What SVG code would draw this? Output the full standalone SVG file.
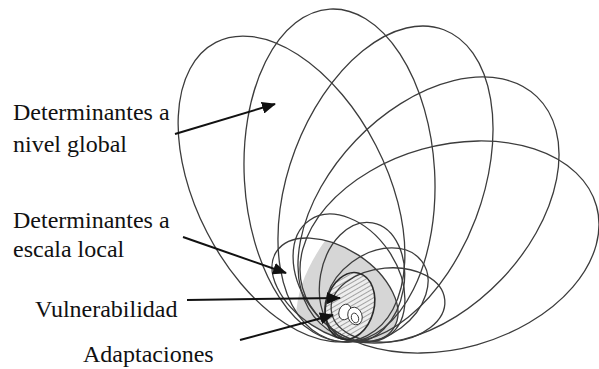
<svg xmlns="http://www.w3.org/2000/svg" width="599" height="369" viewBox="0 0 599 369">
  <style>
    .ring { fill: none; stroke: #3c3c3c; stroke-width: 1.3; }
    .arrow { stroke: #111; stroke-width: 2; fill: none; marker-end: url(#head); }
    .blob { fill: #fff; stroke: #333; stroke-width: 0.9; }
  </style>
  <defs>
    <marker id="head" markerUnits="userSpaceOnUse" markerWidth="14" markerHeight="12" refX="13" refY="6" orient="auto">
      <path d="M0,0 L14,6 L0,12 z" fill="#111"/>
    </marker>
    <pattern id="hatch" patternUnits="userSpaceOnUse" width="4" height="4" patternTransform="rotate(45)">
      <rect width="4" height="4" fill="#eeeeee"/>
      <line x1="0" y1="0" x2="0" y2="4" stroke="#6e6e6e" stroke-width="1.2"/>
    </pattern>
    <clipPath id="clipGray">
      <path d="M301,235 C298,265 298,305 318,335 L345,350 L430,350 L430,220 Z"/>
    </clipPath>
  </defs>
  <rect width="599" height="369" fill="#fff"/>

  <g id="local-shaded">
    <ellipse cx="335" cy="290" rx="70" ry="42" transform="rotate(33.2 335 290)" fill="#d6d6d6" clip-path="url(#clipGray)"/>
  </g>
  <g id="vulnerability-fill">
    <ellipse cx="350" cy="306" rx="24" ry="34" transform="rotate(15 350 306)" fill="url(#hatch)"/>
  </g>

  <g id="global">
    <ellipse class="ring" cx="291.5" cy="189" rx="165" ry="95" transform="rotate(62.7 291.5 189)"/>
    <ellipse class="ring" cx="339.5" cy="175.5" rx="166.7" ry="95.2" transform="rotate(86.7 339.5 175.5)"/>
    <ellipse class="ring" cx="385.5" cy="184" rx="164.9" ry="96.6" transform="rotate(-69.3 385.5 184)"/>
    <ellipse class="ring" cx="428.5" cy="210" rx="156.8" ry="100.7" transform="rotate(-46.3 428.5 210)"/>
    <ellipse class="ring" cx="449.5" cy="247" rx="152.6" ry="101.5" transform="rotate(-15.6 449.5 247)"/>
  </g>

  <g id="local">
    <ellipse class="ring" cx="335" cy="290" rx="70" ry="42" transform="rotate(33.2 335 290)"/>
    <ellipse class="ring" cx="349" cy="278" rx="70" ry="48" transform="rotate(55.7 349 278)"/>
    <ellipse class="ring" cx="362" cy="282" rx="42" ry="60" transform="rotate(10 362 282)"/>
    <ellipse class="ring" cx="376.5" cy="295" rx="56.5" ry="41" transform="rotate(-36.5 376.5 295)"/>
    <ellipse class="ring" cx="388" cy="305" rx="57" ry="37" transform="rotate(-5 388 305)"/>
  </g>

  <g id="vulnerability">
    <ellipse cx="350" cy="306" rx="24" ry="34" transform="rotate(15 350 306)" fill="none" stroke="#2a2a2a" stroke-width="1.6"/>
  </g>

  <g id="adaptations">
    <ellipse class="blob" cx="345" cy="312" rx="6" ry="8" transform="rotate(20 345 312)"/>
    <ellipse class="blob" cx="355" cy="316" rx="7" ry="9" transform="rotate(-20 355 316)"/>
    <ellipse class="blob" cx="355" cy="318" rx="3.5" ry="5" transform="rotate(-20 355 318)"/>
  </g>

  <g id="connectors">
    <line class="arrow" x1="175" y1="134" x2="275" y2="104"/>
    <line class="arrow" x1="183" y1="237" x2="286" y2="273"/>
    <line class="arrow" x1="187" y1="300" x2="340" y2="298"/>
    <line class="arrow" x1="240" y1="340" x2="333" y2="315"/>
  </g>

  <g id="labels" font-family="'Liberation Serif', 'DejaVu Serif', serif" font-size="24" fill="#111">
    <text x="13" y="120">Determinantes a</text>
    <text x="13" y="152">nivel global</text>
    <text x="13" y="228">Determinantes a</text>
    <text x="13" y="257">escala local</text>
    <text x="35" y="317">Vulnerabilidad</text>
    <text x="83" y="362">Adaptaciones</text>
  </g>
</svg>
